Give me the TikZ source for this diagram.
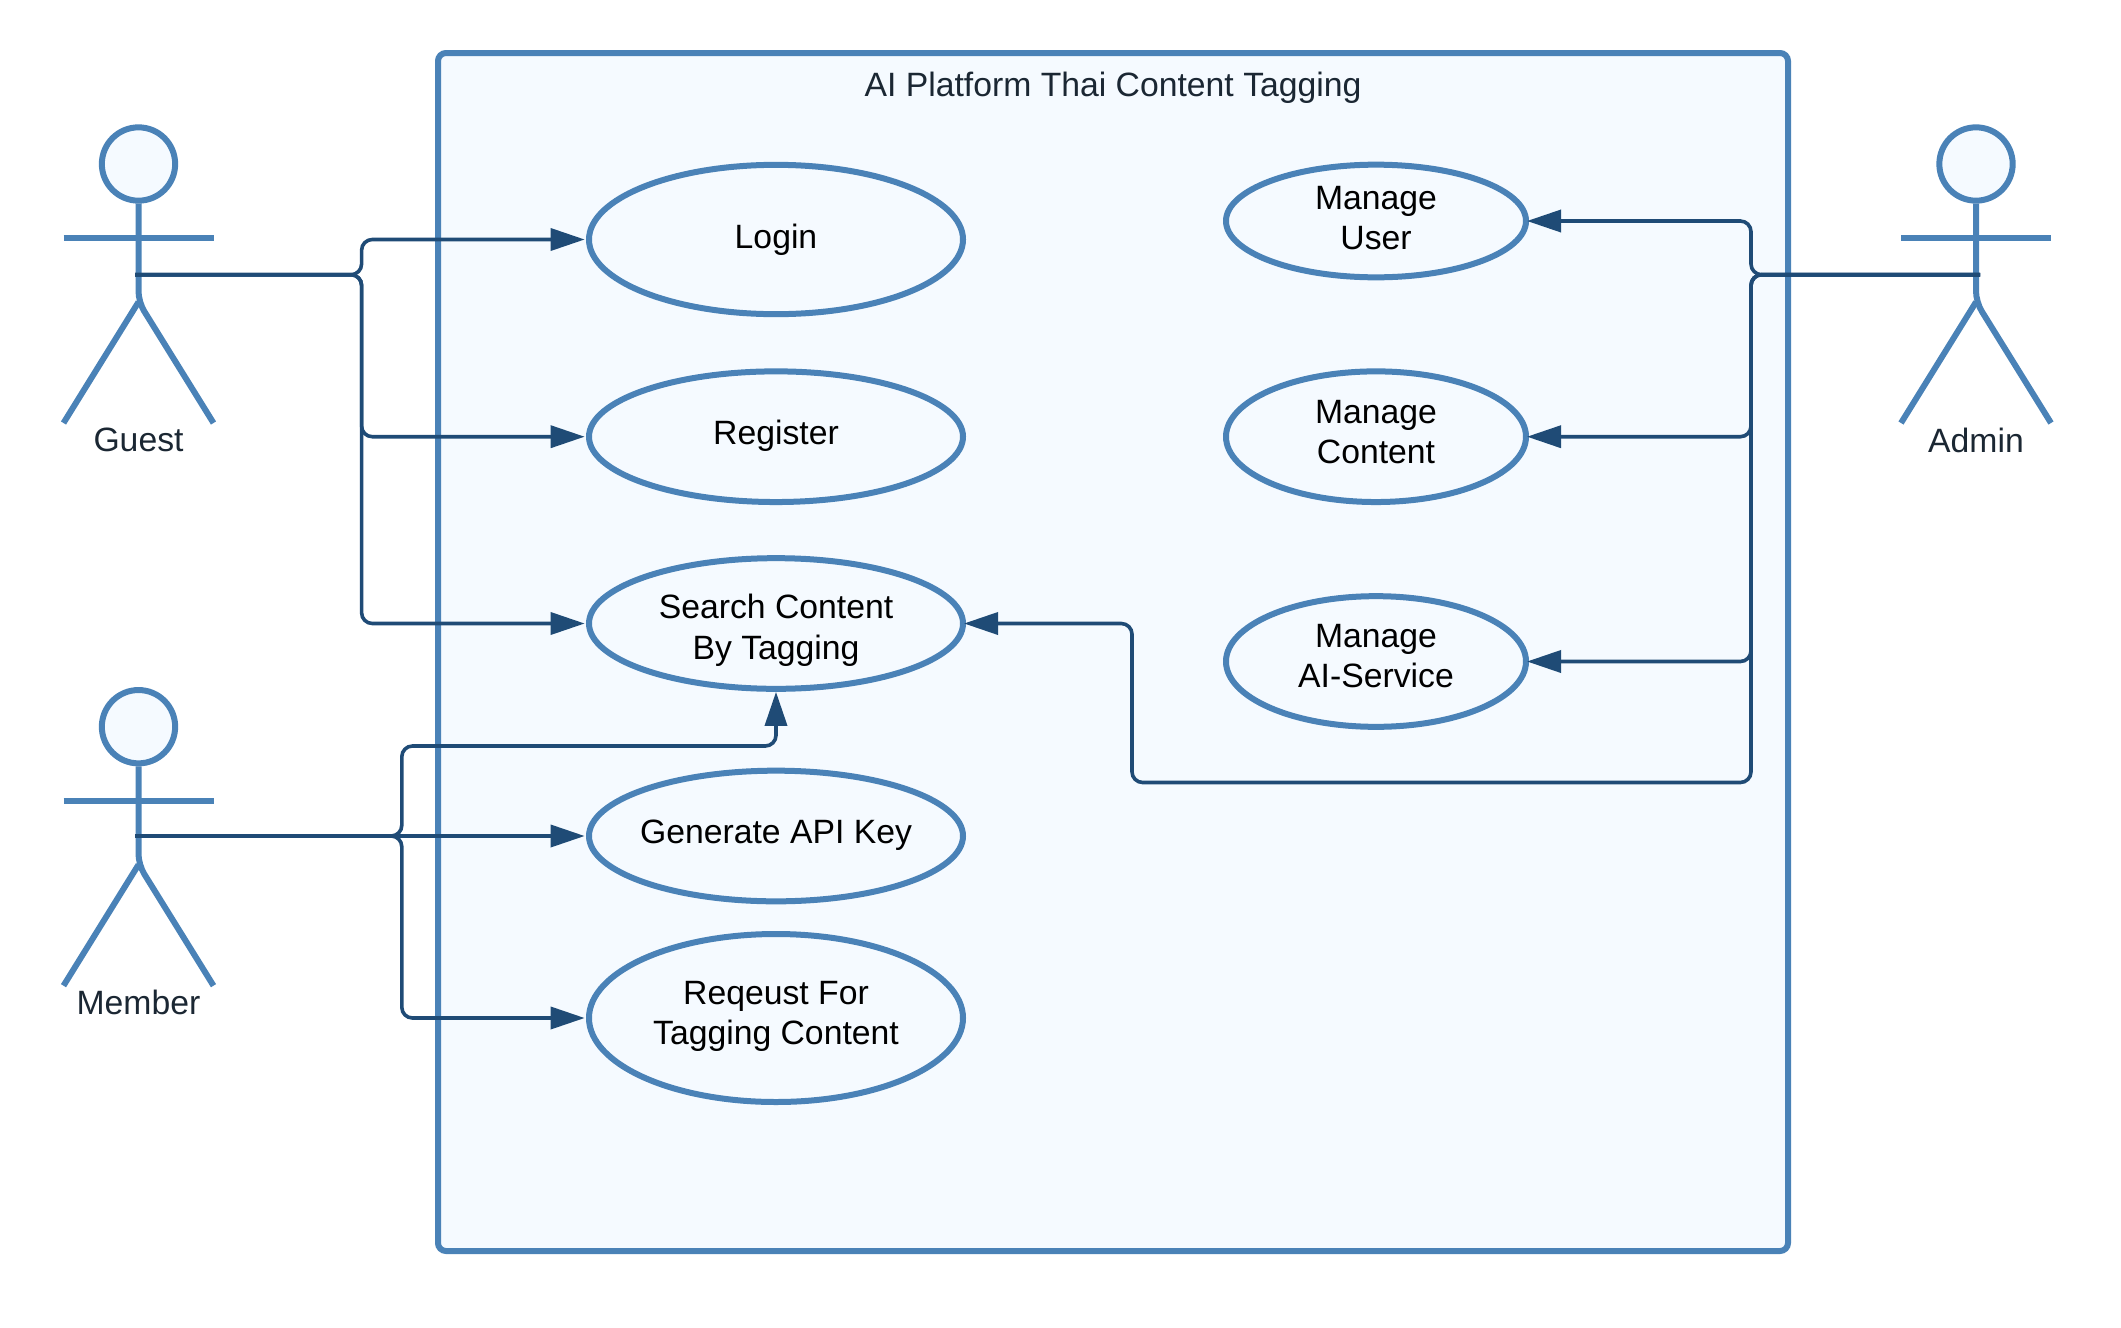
\documentclass[tikz,border=0pt]{standalone}
\usepackage{fontspec}
\setmainfont{Liberation Sans}
\usetikzlibrary{arrows.meta,shapes.geometric}
\definecolor{edgeblue}{HTML}{4A82B7}
\definecolor{fillblue}{HTML}{F5FAFF}
\definecolor{connblue}{HTML}{1F4B76}
\definecolor{labeldark}{HTML}{1B2733}
\tikzset{
  system/.style={draw=edgeblue,fill=fillblue,line width=4.5pt,rounded corners=6pt},
  usecase/.style={shape=ellipse,draw=edgeblue,fill=fillblue,line width=4.5pt,inner sep=0pt},
  leftcase/.style={usecase,minimum width=280.5pt},
  rightcase/.style={usecase,minimum width=225pt},
  casetext/.style={align=center,text=black,inner sep=0pt,font=\fontsize{25.3}{30.4}\selectfont},
  limb/.style={draw=edgeblue,line width=4.5pt},
  head/.style={shape=circle,draw=edgeblue,fill=fillblue,line width=4.5pt,inner sep=0pt,minimum size=55pt},
  actorlabel/.style={text=labeldark,font=\fontsize{25.3}{30.4}\selectfont,inner sep=0pt},
  conn/.style={draw=connblue,line width=2.7pt},
  bent/.style={conn,rounded corners=8pt},
  tip/.style={-{Triangle[length=25.5pt,width=16.5pt]}},
  tipwest/.style={tip,shorten >=1pt},
  tipeast/.style={tip,shorten >=-1.5pt},
}
\newcommand{\drawactor}[4]{% name, x, y of head, label
  \node[head] (#1head) at (#2,#3) {};
  \coordinate (#1join) at (#2,#3+138);
  \draw[limb] (#2-75,#3+74) coordinate (#1armL) -- (#2+75,#3+74) coordinate (#1armR);
  \draw[limb] (#2-75,#3+259) coordinate (#1footL) -- (#1join);
  \draw[limb,rounded corners=8pt] (#1head.south) -- (#1join) -- (#2+75,#3+259) coordinate (#1footR);
  \node[actorlabel] (#1label) at (#2,#3+276) {#4};
}
\newcommand{\drawcase}[7]{% name, side style, x, y, height, text shift, text
  \node[#2,minimum height=#5pt] (#1) at (#3,#4) {};
  \node[casetext] (#1text) at (#3,#4+#6) {#7};
}
\begin{document}
\begin{tikzpicture}[x=0.75pt,y=-0.75pt]
\useasboundingbox (0,0) rectangle (2121,1328);
\draw[system] (438,53) rectangle (1788,1251);
\node[text=labeldark,font=\fontsize{25.3}{30.4}\selectfont,inner sep=0pt] (title) at (1113,87.7) {AI Platform Thai Content Tagging};

\drawcase{login}{leftcase}{776}{239.5}{112}{0}{Login}
\drawcase{register}{leftcase}{776}{436.7}{98}{-1.4}{Register}
\drawcase{search}{leftcase}{776}{623.5}{98}{6.8}{Search Content\\By Tagging}
\drawcase{apikey}{leftcase}{776}{836}{98}{-1}{Generate API Key}
\drawcase{tagreq}{leftcase}{776}{1018}{126}{-1.4}{Reqeust For\\Tagging Content}
\drawcase{muser}{rightcase}{1376}{221}{84.5}{-3}{Manage\\User}
\drawcase{mcontent}{rightcase}{1376}{436.7}{98}{-4.7}{Manage\\Content}
\drawcase{mai}{rightcase}{1376}{661.5}{98}{-5.4}{Manage\\AI-Service}

\drawactor{guest}{138.5}{164}{Guest}
\drawactor{member}{138.5}{726.7}{Member}
\drawactor{admin}{1976}{164}{Admin}

\coordinate (guesthand) at (135,274.7);
\coordinate (memberhand) at (135,836);
\coordinate (adminhand) at (1980,274.7);
\coordinate (guestbus) at (361.6,0);
\coordinate (memberbus) at (401.8,0);
\coordinate (adminbus) at (1751,0);
\coordinate (memberrun) at (0,746);
\coordinate (adminrun) at (0,782.5);
\coordinate (searchdrop) at (1132,0);

\draw[bent,tipwest] (guesthand) -| (guestbus |- login.west) -- (login.west);
\draw[bent,tipwest] (guesthand) -| (guestbus |- register.west) -- (register.west);
\draw[bent,tipwest] (guesthand) -| (guestbus |- search.west) -- (search.west);

\draw[bent,tip] (memberhand) -| (memberbus |- memberrun) -| (search.south);
\draw[conn,tipwest] (memberhand) -- (apikey.west);
\draw[bent,tipwest] (memberhand) -| (memberbus |- tagreq.west) -- (tagreq.west);

\draw[bent,tipeast] (adminhand) -| (adminbus |- muser.east) -- (muser.east);
\draw[bent,tipeast] (adminhand) -| (adminbus |- mcontent.east) -- (mcontent.east);
\draw[bent,tipeast] (adminhand) -| (adminbus |- mai.east) -- (mai.east);
\draw[bent,tipeast] (adminhand) -| (adminbus |- adminrun) -| (searchdrop |- search.east) -- (search.east);
\end{tikzpicture}
\end{document}
